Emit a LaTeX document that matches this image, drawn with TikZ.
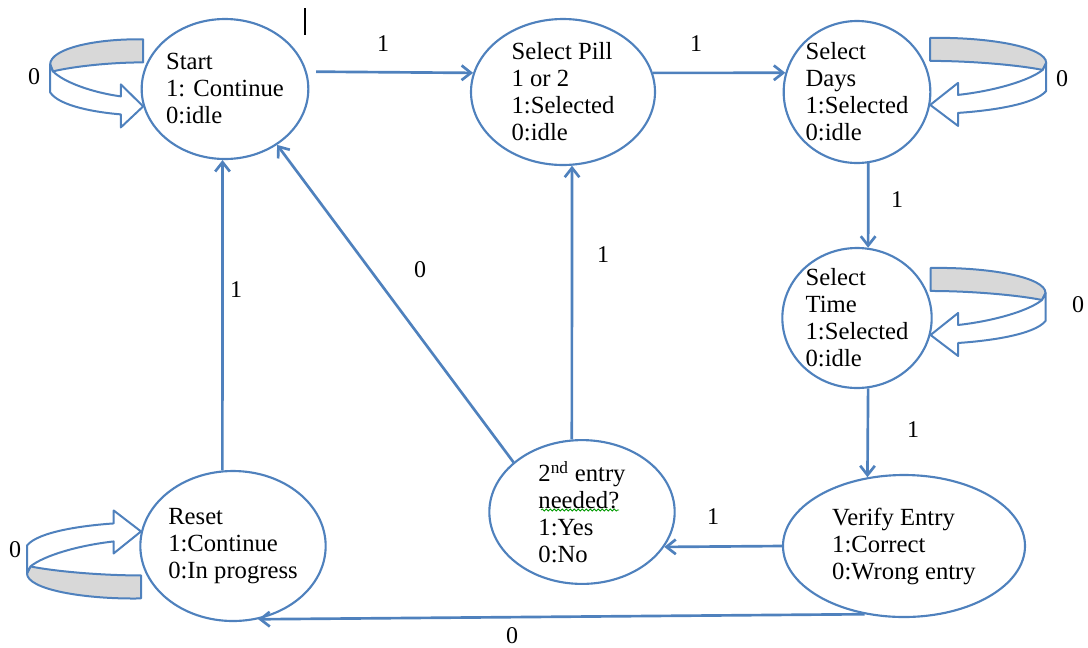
\documentclass[tikz,border=0pt]{standalone}
\usepackage{fontspec}
\setmainfont{Liberation Serif}
\usetikzlibrary{shapes.geometric, arrows.meta, decorations.pathmorphing}
\definecolor{lineblue}{RGB}{79,129,189}
\definecolor{bandgray}{RGB}{216,216,216}

\tikzset{
  selfloop/.pic={
    % gray back of the bent arrow
    \filldraw[draw=lineblue, line width=1.5pt, fill=bandgray, line join=round] (0,-67) .. controls (-50,-68) and (-100,-58) .. (-100,-42) -- (-97,-35) .. controls (-75,-40) and (-35,-44) .. (0,-44) -- cycle;
    % white front with the head
    \filldraw[draw=lineblue, line width=1.5pt, fill=white, line join=round] (-100,-42) -- (-100,-14) .. controls (-90,0) and (-50,6) .. (-24,8) -- (-24,21) -- (0,0) -- (-24,-22) -- (-24,-10) .. controls (-55,-14) and (-85,-24) .. (-97,-35) -- cycle;
  }
}

\begin{document}
\begin{tikzpicture}[x=0.75pt,y=0.75pt,yscale=-1,xscale=1,
  state/.style={draw=lineblue, line width=1.6pt, ellipse, inner sep=0pt, align=left, font=\fontsize{18.5}{20.25}\selectfont},
  arr/.style={draw=lineblue, line width=2pt, -{Straight Barb[length=7pt,width=11pt]}},
  lbl/.style={font=\fontsize{18}{20}\selectfont}]
        \useasboundingbox (0,0) rectangle (1088,647);

        %States
        \node[state, minimum width=123pt, minimum height=105pt] (start) at (225,89) {Start\\1: Continue\\0:idle};
        \node[state, minimum width=138pt, minimum height=109.5pt] (pill) at (563,92) {Select Pill\\1 or 2\\1:Selected\\0:idle};
        \node[state, minimum width=110pt, minimum height=106.5pt] (days) at (857,92) {Select\\Days\\1:Selected\\0:idle};
        \node[state, minimum width=112pt, minimum height=105pt] (time) at (857,318) {Select\\Time\\1:Selected\\0:idle};
        \node[state, minimum width=181.5pt, minimum height=106.5pt] (verify) at (904,546) {Verify Entry\\1:Correct\\0:Wrong entry};
        \node[state, minimum width=139pt, minimum height=106pt] (entry) at (582,512) {2\textsuperscript{nd} entry\\needed?\\1:Yes\\0:No};
        \node[state, minimum width=139pt, minimum height=112.5pt] (reset) at (233,546) {Reset\\1:Continue\\0:In progress};

        %spell check mark under needed?
        \draw[green!60!black, line width=0.6pt, decorate, decoration={snake, amplitude=0.8pt, segment length=3pt}] (541,510) -- (619,510);

        %Transitions
        \draw[arr, shorten <=7pt] (start.12) -- (pill.168);
        \draw[arr] (pill.12) -- (days.165);
        \draw[arr] (days.-81) -- (time.81);
        \draw[arr] (time.-81) -- (verify.118);
        \draw[arr] (verify.west) -- (entry.-23.5);
        \draw[arr] (verify.-120) -- (reset.-71);
        \draw[arr] (reset.98) -- (start.-92);
        \draw[arr] (entry.98) -- (pill.-83);
        \draw[arr] (entry.144) -- (start.-47);

        %Self loops
        \pic[xscale=0.93, yscale=-1] at (start.192) {selfloop};
        \pic[xscale=-1.16, yscale=-1] at (days.-10) {selfloop};
        \pic[xscale=-1.15, yscale=-1] at (time.-13) {selfloop};
        \pic[xscale=1.14] at (reset.171) {selfloop};

        % Text Node
        \node[lbl] (lstart) at (383,44) {1};
        \node[lbl] (lpill) at (696,44) {1};
        \node[lbl] (ldays) at (897,200) {1};
        \node[lbl] (ltime) at (913,430) {1};
        \node[lbl] (lverify) at (713,517) {1};
        \node[lbl] (lwrong) at (512,636) {0};
        \node[lbl] (lreset) at (236,290) {1};
        \node[lbl] (lyes) at (603,255) {1};
        \node[lbl] (lno) at (420,270) {0};
        % Text Node
        \node[lbl] (lloopstart) at (34,77) {0};
        \node[lbl] (lloopdays) at (1062,79) {0};
        \node[lbl] (llooptime) at (1078,305) {0};
        \node[lbl] (lloopreset) at (15,550) {0};

        %cursor
        \draw[black, line width=0.8pt] (305,8) -- (305,35);
\end{tikzpicture}
\end{document}
